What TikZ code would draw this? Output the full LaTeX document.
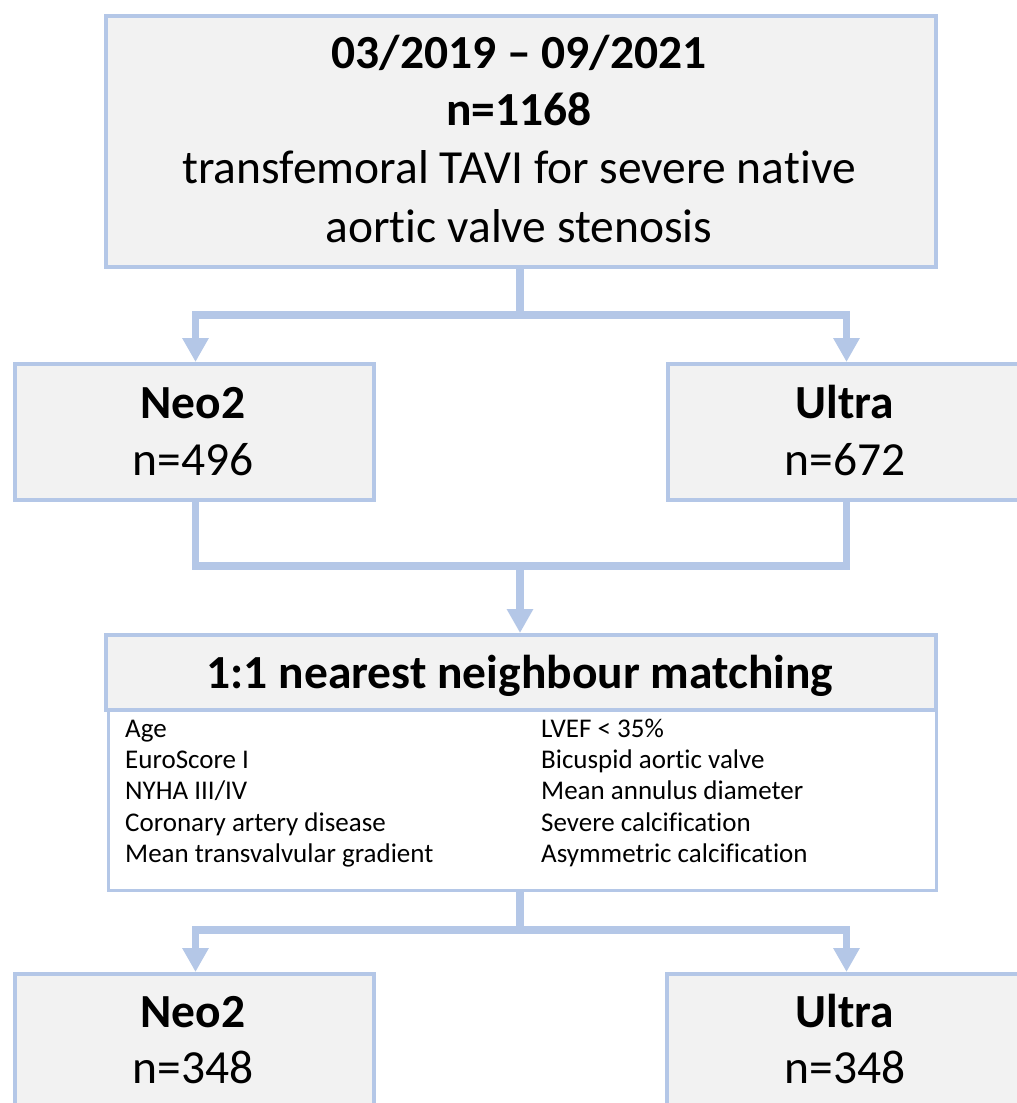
\documentclass[tikz,border=0pt]{standalone}
\usepackage{fontspec}
\setmainfont{Carlito}[Ligatures={NoCommon}]
\usetikzlibrary{arrows.meta}
\definecolor{bord}{HTML}{B4C7E7}
\definecolor{boxfill}{HTML}{F2F2F2}
\begin{document}
\begin{tikzpicture}[x=1pt,y=-1pt,
  box/.style={draw=bord,fill=boxfill,line width=4pt,rectangle,inner sep=0pt,anchor=north west},
  wbox/.style={draw=bord,fill=white,line width=3pt,rectangle,inner sep=0pt,anchor=north west},
  conn/.style={draw=bord,line width=7.5pt},
  arr/.style={conn,-{Triangle[width=25pt,length=24pt]}},
  big/.style={font=\fontsize{47.5}{52}\selectfont,anchor=base,inner sep=0pt},
  bigb/.style={font=\fontsize{47.5}{52}\selectfont\bfseries,anchor=base,inner sep=0pt},
  head/.style={font=\fontsize{47.5}{52}\selectfont\bfseries,anchor=base,inner sep=0pt},
  item/.style={font=\fontsize{27}{31}\selectfont,anchor=base west,inner sep=0pt}
]
\useasboundingbox[fill=white] (0,0) rectangle (1017,1103);

% boxes
\node[box,minimum width=830pt,minimum height=251pt] (top) at (104,14) {};
\node[box,minimum width=359pt,minimum height=136pt] (neo) at (13,362) {};
\node[box,minimum width=359pt,minimum height=136pt] (ult) at (666,362) {};
\node[wbox,minimum width=828pt,minimum height=181pt] (list) at (107,708) {};
\node[box,minimum width=830pt,minimum height=75pt] (head) at (104,633) {};
\node[box,minimum width=359pt,minimum height=140pt] (neob) at (13,972) {};
\node[box,minimum width=359pt,minimum height=140pt] (ultb) at (665,972) {};

% texts
\node[bigb] (t1) at (519,68) {03/2019 – 09/2021};
\node[bigb] (t2) at (519,125) {n=1168};
\node[big] (t3) at (519,183) {transfemoral TAVI for severe native};
\node[big] (t4) at (519,242) {aortic valve stenosis};

\node[bigb] (n1) at (193,418) {Neo2};
\node[big] (n2) at (193,475) {n=496};
\node[bigb] (u1) at (845,418) {Ultra};
\node[big] (u2) at (845,475) {n=672};

\node[head] (h1) at (520,688) {1:1 nearest neighbour matching};

\node[item] (a1) at (125,737) {Age};
\node[item] (a2) at (125,768) {EuroScore I};
\node[item] (a3) at (125,799) {NYHA III/IV};
\node[item] (a4) at (125,831) {Coronary artery disease};
\node[item] (a5) at (125,862) {Mean transvalvular gradient};
\node[item] (b1) at (541,737) {LVEF < 35\%};
\node[item] (b2) at (541,768) {Bicuspid aortic valve};
\node[item] (b3) at (541,799) {Mean annulus diameter};
\node[item] (b4) at (541,831) {Severe calcification};
\node[item] (b5) at (541,862) {Asymmetric calcification};

\node[bigb] (m1) at (193,1027) {Neo2};
\node[big] (m2) at (193,1083) {n=348};
\node[bigb] (v1) at (845,1027) {Ultra};
\node[big] (v2) at (845,1083) {n=348};

% connectors
\coordinate (j1) at (520,315);
\coordinate (j2) at (520,566);
\coordinate (j3) at (520,930);
\draw[conn] (top.south -| j1) -- (j1);
\draw[arr] (j1) -| ([xshift=1pt]neo.north);
\draw[arr] (j1) -| ([xshift=-1pt]ult.north);
\draw[conn] ([xshift=1pt]neo.south) |- (j2) -| ([xshift=-1pt]ult.south);
\draw[arr] (j2) -- (head.north -| j2);
\draw[conn] (list.south -| j3) -- (j3);
\draw[arr] (j3) -| ([xshift=1pt]neob.north);
\draw[arr] (j3) -| (ultb.north);
\end{tikzpicture}
\end{document}
